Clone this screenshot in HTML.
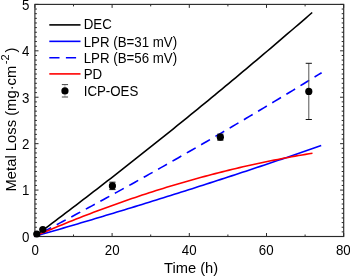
<!DOCTYPE html><html><head><meta charset="utf-8"><style>html,body{margin:0;padding:0;background:#fff;width:350px;height:276px;overflow:hidden}svg{display:block;will-change:transform}text{font-family:"Liberation Sans",sans-serif;fill:#000}</style></head><body>
<svg width="350" height="276" viewBox="0 0 350 276">
<path d="M34.90 236.50h3.6M343.70 236.50h-3.6M34.90 231.86h2.0M343.70 231.86h-2.0M34.90 227.22h2.0M343.70 227.22h-2.0M34.90 222.57h2.0M343.70 222.57h-2.0M34.90 217.93h2.0M343.70 217.93h-2.0M34.90 213.29h2.0M343.70 213.29h-2.0M34.90 208.65h2.0M343.70 208.65h-2.0M34.90 204.01h2.0M343.70 204.01h-2.0M34.90 199.36h2.0M343.70 199.36h-2.0M34.90 194.72h2.0M343.70 194.72h-2.0M34.90 190.08h3.6M343.70 190.08h-3.6M34.90 185.44h2.0M343.70 185.44h-2.0M34.90 180.80h2.0M343.70 180.80h-2.0M34.90 176.15h2.0M343.70 176.15h-2.0M34.90 171.51h2.0M343.70 171.51h-2.0M34.90 166.87h2.0M343.70 166.87h-2.0M34.90 162.23h2.0M343.70 162.23h-2.0M34.90 157.59h2.0M343.70 157.59h-2.0M34.90 152.94h2.0M343.70 152.94h-2.0M34.90 148.30h2.0M343.70 148.30h-2.0M34.90 143.66h3.6M343.70 143.66h-3.6M34.90 139.02h2.0M343.70 139.02h-2.0M34.90 134.38h2.0M343.70 134.38h-2.0M34.90 129.73h2.0M343.70 129.73h-2.0M34.90 125.09h2.0M343.70 125.09h-2.0M34.90 120.45h2.0M343.70 120.45h-2.0M34.90 115.81h2.0M343.70 115.81h-2.0M34.90 111.17h2.0M343.70 111.17h-2.0M34.90 106.52h2.0M343.70 106.52h-2.0M34.90 101.88h2.0M343.70 101.88h-2.0M34.90 97.24h3.6M343.70 97.24h-3.6M34.90 92.60h2.0M343.70 92.60h-2.0M34.90 87.96h2.0M343.70 87.96h-2.0M34.90 83.31h2.0M343.70 83.31h-2.0M34.90 78.67h2.0M343.70 78.67h-2.0M34.90 74.03h2.0M343.70 74.03h-2.0M34.90 69.39h2.0M343.70 69.39h-2.0M34.90 64.75h2.0M343.70 64.75h-2.0M34.90 60.10h2.0M343.70 60.10h-2.0M34.90 55.46h2.0M343.70 55.46h-2.0M34.90 50.82h3.6M343.70 50.82h-3.6M34.90 46.18h2.0M343.70 46.18h-2.0M34.90 41.54h2.0M343.70 41.54h-2.0M34.90 36.89h2.0M343.70 36.89h-2.0M34.90 32.25h2.0M343.70 32.25h-2.0M34.90 27.61h2.0M343.70 27.61h-2.0M34.90 22.97h2.0M343.70 22.97h-2.0M34.90 18.33h2.0M343.70 18.33h-2.0M34.90 13.68h2.0M343.70 13.68h-2.0M34.90 9.04h2.0M343.70 9.04h-2.0M34.90 4.40h3.6M343.70 4.40h-3.6M34.90 236.50v-3.5M34.90 4.40v3.5M73.50 236.50v-2.0M73.50 4.40v2.0M112.10 236.50v-3.5M112.10 4.40v3.5M150.70 236.50v-2.0M150.70 4.40v2.0M189.30 236.50v-3.5M189.30 4.40v3.5M227.90 236.50v-2.0M227.90 4.40v2.0M266.50 236.50v-3.5M266.50 4.40v3.5M305.10 236.50v-2.0M305.10 4.40v2.0M343.70 236.50v-3.5M343.70 4.40v3.5" stroke="#2a2a2a" stroke-width="1" fill="none"/>
<rect x="34.9" y="4.4" width="308.80" height="232.10" fill="none" stroke="#2a2a2a" stroke-width="1.15"/>
<text transform="translate(29.50,241.80) scale(1.0,1.05)" font-size="13.3" text-anchor="end">0</text>
<text transform="translate(29.50,195.38) scale(1.0,1.05)" font-size="13.3" text-anchor="end">1</text>
<text transform="translate(29.50,148.96) scale(1.0,1.05)" font-size="13.3" text-anchor="end">2</text>
<text transform="translate(29.50,102.54) scale(1.0,1.05)" font-size="13.3" text-anchor="end">3</text>
<text transform="translate(29.50,56.12) scale(1.0,1.05)" font-size="13.3" text-anchor="end">4</text>
<text transform="translate(29.50,9.70) scale(1.0,1.05)" font-size="13.3" text-anchor="end">5</text>
<text transform="translate(35.10,255.00) scale(1.0,1.05)" font-size="13.3" text-anchor="middle">0</text>
<text transform="translate(112.15,255.00) scale(1.0,1.05)" font-size="13.3" text-anchor="middle">20</text>
<text transform="translate(189.20,255.00) scale(1.0,1.05)" font-size="13.3" text-anchor="middle">40</text>
<text transform="translate(266.25,255.00) scale(1.0,1.05)" font-size="13.3" text-anchor="middle">60</text>
<text transform="translate(343.30,255.00) scale(1.0,1.05)" font-size="13.3" text-anchor="middle">80</text>
<text x="191.1" y="272.6" font-size="14.7" text-anchor="middle">Time (h)</text>
<text transform="translate(16.3,191.5) rotate(-90)" font-size="14.8">Metal Loss (mg·cm<tspan font-size="11" dx="1.5" dy="-7.6">-2</tspan><tspan dx="2.0" dy="7.6">)</tspan></text>
<polyline points="34.50,236.40 37.97,233.81 41.44,231.22 44.91,228.63 48.38,226.03 51.86,223.42 55.33,220.81 58.80,218.19 62.27,215.56 65.74,212.94 69.21,210.30 72.68,207.66 76.16,205.02 79.63,202.37 83.10,199.71 86.57,197.05 90.04,194.38 93.51,191.71 96.98,189.04 100.45,186.35 103.92,183.66 107.40,180.97 110.87,178.27 114.34,175.57 117.81,172.86 121.28,170.14 124.75,167.42 128.22,164.70 131.69,161.97 135.17,159.23 138.64,156.49 142.11,153.74 145.58,150.99 149.05,148.23 152.52,145.47 155.99,142.70 159.46,139.92 162.94,137.14 166.41,134.36 169.88,131.57 173.35,128.77 176.82,125.97 180.29,123.16 183.76,120.35 187.23,117.53 190.71,114.71 194.18,111.88 197.65,109.05 201.12,106.21 204.59,103.36 208.06,100.52 211.53,97.66 215.00,94.80 218.48,91.93 221.95,89.06 225.42,86.18 228.89,83.30 232.36,80.41 235.83,77.52 239.30,74.62 242.78,71.72 246.25,68.81 249.72,65.90 253.19,62.98 256.66,60.05 260.13,57.12 263.60,54.18 267.07,51.24 270.54,48.29 274.02,45.34 277.49,42.38 280.96,39.42 284.43,36.45 287.90,33.48 291.37,30.50 294.84,27.51 298.31,24.52 301.79,21.53 305.26,18.53 308.73,15.52 312.20,12.51" fill="none" stroke="#000" stroke-width="1.6"/>
<polyline points="34.50,236.40 38.08,235.37 41.67,234.34 45.25,233.31 48.84,232.28 52.42,231.24 56.00,230.20 59.59,229.16 63.17,228.11 66.75,227.07 70.34,226.01 73.92,224.96 77.50,223.90 81.09,222.84 84.67,221.78 88.26,220.72 91.84,219.65 95.42,218.58 99.01,217.51 102.59,216.43 106.17,215.35 109.76,214.27 113.34,213.19 116.93,212.10 120.51,211.01 124.09,209.92 127.68,208.82 131.26,207.73 134.84,206.62 138.43,205.52 142.01,204.42 145.60,203.31 149.18,202.19 152.76,201.08 156.35,199.96 159.93,198.84 163.51,197.72 167.10,196.60 170.68,195.47 174.27,194.34 177.85,193.20 181.43,192.07 185.02,190.93 188.60,189.78 192.19,188.64 195.77,187.49 199.35,186.34 202.94,185.19 206.52,184.03 210.10,182.87 213.69,181.71 217.27,180.55 220.85,179.38 224.44,178.21 228.02,177.04 231.61,175.87 235.19,174.69 238.77,173.51 242.36,172.32 245.94,171.14 249.53,169.95 253.11,168.76 256.69,167.56 260.28,166.37 263.86,165.17 267.44,163.96 271.03,162.76 274.61,161.55 278.19,160.34 281.78,159.13 285.36,157.91 288.95,156.69 292.53,155.47 296.11,154.24 299.70,153.02 303.28,151.79 306.87,150.55 310.45,149.32 314.03,148.08 317.62,146.84 321.20,145.59" fill="none" stroke="#0000ff" stroke-width="1.6"/>
<polyline points="34.50,236.40 38.09,234.52 41.68,232.64 45.27,230.75 48.86,228.86 52.44,226.96 56.03,225.06 59.62,223.16 63.21,221.25 66.80,219.34 70.39,217.42 73.98,215.50 77.56,213.57 81.15,211.64 84.74,209.71 88.33,207.77 91.92,205.83 95.51,203.88 99.10,201.93 102.69,199.97 106.28,198.01 109.86,196.05 113.45,194.08 117.04,192.11 120.63,190.14 124.22,188.15 127.81,186.17 131.40,184.18 134.99,182.19 138.57,180.19 142.16,178.19 145.75,176.18 149.34,174.17 152.93,172.16 156.52,170.14 160.11,168.12 163.69,166.09 167.28,164.06 170.87,162.02 174.46,159.98 178.05,157.94 181.64,155.89 185.23,153.84 188.82,151.78 192.41,149.72 195.99,147.66 199.58,145.59 203.17,143.52 206.76,141.44 210.35,139.36 213.94,137.27 217.53,135.18 221.12,133.08 224.70,130.99 228.29,128.88 231.88,126.78 235.47,124.66 239.06,122.55 242.65,120.43 246.24,118.30 249.82,116.18 253.41,114.04 257.00,111.91 260.59,109.77 264.18,107.62 267.77,105.47 271.36,103.32 274.95,101.16 278.54,99.00 282.12,96.83 285.71,94.66 289.30,92.49 292.89,90.31 296.48,88.12 300.07,85.94 303.66,83.74 307.25,81.55 310.83,79.35 314.42,77.14 318.01,74.94 321.60,72.72" fill="none" stroke="#0000ff" stroke-width="1.6" stroke-dasharray="10.2 6.31" stroke-dashoffset="-8.6"/>
<polyline points="34.50,236.40 37.98,234.89 41.45,233.39 44.92,231.90 48.40,230.43 51.88,228.96 55.35,227.51 58.83,226.07 62.30,224.64 65.78,223.23 69.25,221.82 72.72,220.43 76.20,219.05 79.67,217.68 83.15,216.33 86.62,214.98 90.10,213.65 93.58,212.33 97.05,211.02 100.53,209.73 104.00,208.44 107.47,207.17 110.95,205.91 114.42,204.66 117.90,203.42 121.38,202.20 124.85,200.98 128.32,199.78 131.80,198.59 135.28,197.42 138.75,196.25 142.22,195.10 145.70,193.96 149.18,192.83 152.65,191.71 156.12,190.60 159.60,189.51 163.07,188.43 166.55,187.36 170.03,186.30 173.50,185.25 176.97,184.22 180.45,183.20 183.93,182.19 187.40,181.19 190.88,180.20 194.35,179.23 197.82,178.26 201.30,177.31 204.78,176.38 208.25,175.45 211.72,174.53 215.20,173.63 218.68,172.74 222.15,171.86 225.62,170.99 229.10,170.14 232.57,169.29 236.05,168.46 239.53,167.64 243.00,166.84 246.47,166.04 249.95,165.26 253.43,164.49 256.90,163.73 260.38,162.98 263.85,162.24 267.32,161.52 270.80,160.81 274.27,160.11 277.75,159.42 281.23,158.74 284.70,158.08 288.18,157.43 291.65,156.79 295.12,156.16 298.60,155.54 302.07,154.94 305.55,154.34 309.02,153.76 312.50,153.19" fill="none" stroke="#ff0000" stroke-width="1.6"/>
<path d="M36.80 233.50V234.50" stroke="#555" stroke-width="1" fill="none"/>
<path d="M33.70 233.50h6.2M33.70 234.50h6.2" stroke="#111" stroke-width="1" fill="none"/>
<circle cx="36.80" cy="234.00" r="3.6" fill="#000"/>
<path d="M42.80 229.00V230.00" stroke="#555" stroke-width="1" fill="none"/>
<path d="M39.70 229.00h6.2M39.70 230.00h6.2" stroke="#111" stroke-width="1" fill="none"/>
<circle cx="42.80" cy="229.50" r="3.6" fill="#000"/>
<path d="M112.40 182.20V189.60" stroke="#555" stroke-width="1" fill="none"/>
<path d="M109.30 182.20h6.2M109.30 189.60h6.2" stroke="#111" stroke-width="1" fill="none"/>
<circle cx="112.40" cy="185.90" r="3.6" fill="#000"/>
<path d="M220.35 134.15V140.15" stroke="#555" stroke-width="1" fill="none"/>
<path d="M217.25 134.15h6.2M217.25 140.15h6.2" stroke="#111" stroke-width="1" fill="none"/>
<circle cx="220.35" cy="137.15" r="3.6" fill="#000"/>
<path d="M308.80 63.30V119.50" stroke="#555" stroke-width="1" fill="none"/>
<path d="M305.70 63.30h6.2M305.70 119.50h6.2" stroke="#111" stroke-width="1" fill="none"/>
<circle cx="308.80" cy="91.40" r="3.6" fill="#000"/>
<path d="M49.3 24.9H80.5" stroke="#000" stroke-width="1.6"/>
<path d="M49.3 41.35H80.5" stroke="#0000ff" stroke-width="1.6"/>
<path d="M49.3 57.7H80.5" stroke="#0000ff" stroke-width="1.6" stroke-dasharray="10.2 6.4"/>
<path d="M49.3 73.9H80.5" stroke="#ff0000" stroke-width="1.6"/>
<path d="M64.95 84.6V97.0" stroke="#aaa" stroke-width="0.8" fill="none"/>
<path d="M61.85 84.6h6.2M61.85 97.0h6.2" stroke="#444" stroke-width="1" fill="none"/>
<circle cx="64.95" cy="90.95" r="3.6" fill="#000"/>
<text transform="translate(83.70,29.30) scale(1.0,1.05)" font-size="13.3">DEC</text>
<text transform="translate(83.70,46.85) scale(1.0,1.05)" font-size="13.3">LPR (B=31 mV)</text>
<text transform="translate(83.70,63.40) scale(1.0,1.05)" font-size="13.3">LPR (B=56 mV)</text>
<text transform="translate(83.70,79.15) scale(1.0,1.05)" font-size="13.3">PD</text>
<text transform="translate(83.70,96.40) scale(1.0,1.05)" font-size="13.3">ICP-OES</text>
</svg></body></html>
